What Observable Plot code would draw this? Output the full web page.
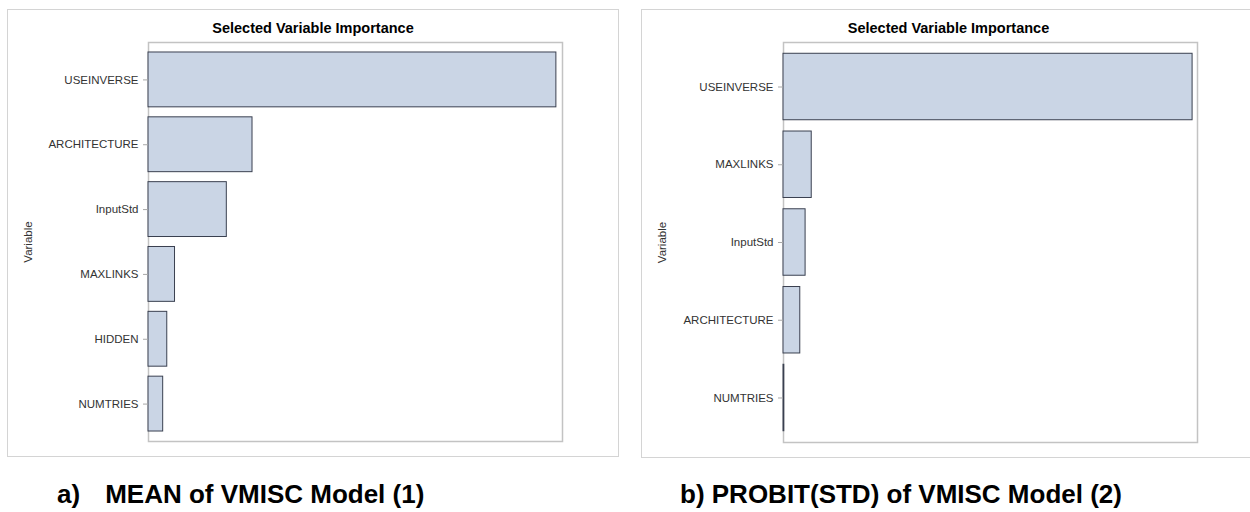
<!DOCTYPE html>
<html>
<head>
<meta charset="utf-8">
<script src="https://cdn.jsdelivr.net/npm/d3@7"></script>
<script src="https://cdn.jsdelivr.net/npm/@observablehq/plot@0.6"></script>
<style>
  html, body { margin: 0; padding: 0; background: #fff; overflow: hidden; }
  #page { position: relative; width: 1250px; height: 512px; overflow: hidden; font-family: "Liberation Sans", Arial, sans-serif; }
  .panel { position: absolute; border: 1px solid #d4d4d4; background: #fff; }
  .panel svg { position: absolute; left: 0; top: 0; }
  .ptitle { position: absolute; left: 0; right: 0; top: 11px; text-align: center; font: bold 14.5px "Liberation Sans", Arial, sans-serif; line-height: 14px; color: #000; }
  .caption { position: absolute; top: 481px; font: bold 26px "Liberation Sans", Arial, sans-serif; color: #000; white-space: pre; line-height: 26px; }
</style>
</head>
<body>
<div id="page">
  <div class="panel" id="panelA" style="left:7px; top:9px; width:610px; height:446px;"><div class="ptitle">Selected Variable Importance</div></div>
  <div class="panel" id="panelB" style="left:641px; top:9px; width:613px; height:447px;"><div class="ptitle">Selected Variable Importance</div></div>
  <div class="caption" style="left:57px;">a)<span style="margin-left:25px">MEAN of VMISC Model (1)</span></div>
  <div class="caption" style="left:680px;">b) PROBIT(STD) of VMISC Model (2)</div>
</div>
<script>
// Model (1): relative importance of the selected inputs (largest = 1)
const varsA = ["USEINVERSE", "ARCHITECTURE", "InputStd", "MAXLINKS", "HIDDEN", "NUMTRIES"];
const importanceA = [1, 0.255, 0.192, 0.065, 0.046, 0.036];

// Model (2): relative importance of the selected inputs (largest = 1)
const varsB = ["USEINVERSE", "MAXLINKS", "InputStd", "ARCHITECTURE", "NUMTRIES"];
const importanceB = [1, 0.069, 0.054, 0.041, 0.002];

const barFill = "#cad5e5";
const barStroke = "#3a4050";

function importanceChart(vars, values, {width, height, marginLeft, marginTop, marginRight, marginBottom, xMax, padding, labelOffset}) {
  const rows = vars.map((v, i) => ({variable: v, importance: values[i]}));
  return Plot.plot({
    width, height, marginLeft, marginTop, marginRight, marginBottom,
    style: {fontFamily: "'Liberation Sans', Arial, sans-serif", fontSize: "11.5px", background: "transparent"},
    x: {domain: [0, xMax], axis: null},
    y: {domain: vars, padding, round: false},
    marks: [
      Plot.frame({stroke: "#c3c3c3", strokeWidth: 1.5}),
      Plot.barX(rows, {x: "importance", y: "variable", fill: barFill, stroke: barStroke, strokeWidth: 1}),
      Plot.axisY({
        tickSize: 5, tickPadding: 5, stroke: "#a8a8a8", fill: "#333",
        label: "Variable", labelAnchor: "center", labelOffset, labelArrow: "none"
      })
    ]
  });
}

document.getElementById("panelA").appendChild(importanceChart(varsA, importanceA, {
  width: 610, height: 446, marginLeft: 140, marginTop: 32, marginRight: 56, marginBottom: 15,
  xMax: 1.015, padding: 0.154, labelOffset: 125
}));
document.getElementById("panelB").appendChild(importanceChart(varsB, importanceB, {
  width: 613, height: 447, marginLeft: 141, marginTop: 32, marginRight: 58, marginBottom: 15,
  xMax: 1.012, padding: 0.145, labelOffset: 126
}));
</script>
</body>
</html>
